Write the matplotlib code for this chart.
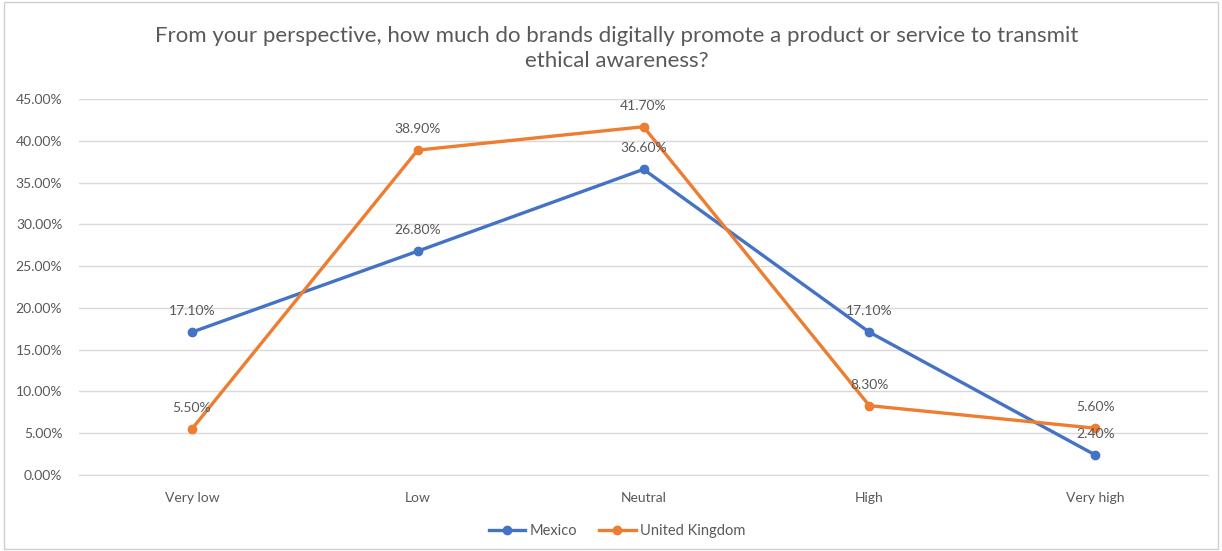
import matplotlib
matplotlib.use("Agg")
import matplotlib.pyplot as plt
from matplotlib.ticker import PercentFormatter, MultipleLocator
from matplotlib.patches import Rectangle

categories = ["Very low", "Low", "Neutral", "High", "Very high"]
mexico = [17.10, 26.80, 36.60, 17.10, 2.40]
uk = [5.50, 38.90, 41.70, 8.30, 5.60]

title = "From your perspective, how much do brands digitally promote a product or service to transmit\nethical awareness?"

plt.rcParams["font.family"] = ["Lato", "DejaVu Sans"]
text_color = "#595959"
grid_color = "#D9D9D9"

fig = plt.figure(figsize=(12.22, 5.51), dpi=100)
ax = fig.add_axes([0.0646, 0.138, 0.924, 0.682])

# thin frame around the whole chart area
fig.patches.append(Rectangle((0.003, 0.003), 0.994, 0.994, transform=fig.transFigure,
                             fill=False, edgecolor="#D0D0D0", linewidth=1))

x = list(range(len(categories)))
series = [("Mexico", mexico, "#4472C4"), ("United Kingdom", uk, "#ED7D31")]
for name, vals, col in series:
    ax.plot(x, vals, color=col, linewidth=2.4, marker="o", markersize=6, label=name, zorder=3)
    for xi, v in zip(x, vals):
        ax.annotate(f"{v:.2f}%", (xi, v), xytext=(0, 15), textcoords="offset points",
                    ha="center", va="center", fontsize=10, color=text_color, zorder=4)

ax.set_xlim(-0.5, len(categories) - 0.5)
ax.set_ylim(0, 45)
ax.yaxis.set_major_locator(MultipleLocator(5))
ax.yaxis.set_major_formatter(PercentFormatter(decimals=2))
ax.set_xticks(x)
ax.set_xticklabels(categories)
ax.tick_params(axis="both", length=0, labelsize=10, colors=text_color)
ax.tick_params(axis="x", pad=12)
ax.tick_params(axis="y", pad=12)
ax.grid(axis="y", color=grid_color, linewidth=1)
ax.set_axisbelow(True)
for side in ["top", "right", "left"]:
    ax.spines[side].set_visible(False)
ax.spines["bottom"].set_color(grid_color)

fig.text(0.505, 0.912, title, ha="center", va="center", fontsize=16, color=text_color,
         linespacing=1.3)

fig.legend(loc="center", bbox_to_anchor=(0.505, 0.037), ncol=2, frameon=False,
           fontsize=10.5, labelcolor=text_color, handlelength=2.5, handletextpad=0.3,
           columnspacing=1.5)

fig.savefig("out.png", dpi=100)
